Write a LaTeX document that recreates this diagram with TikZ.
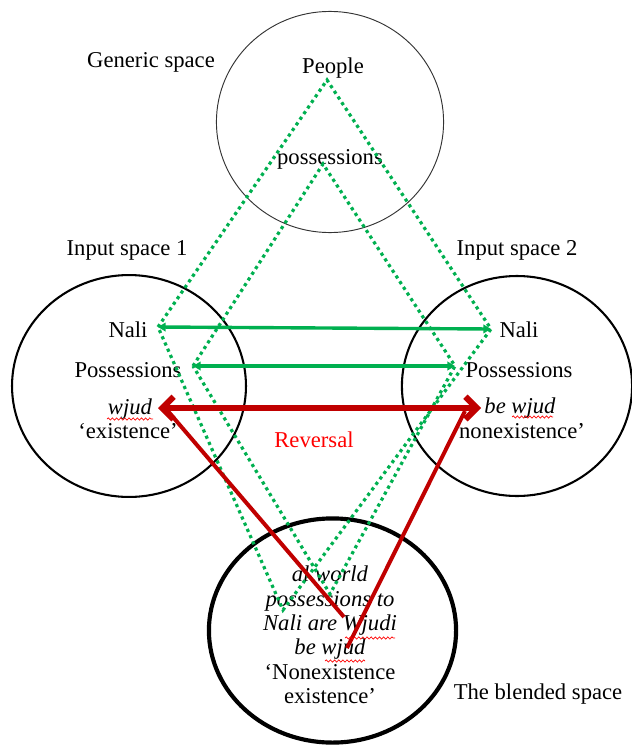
\documentclass[tikz,border=0pt]{standalone}
\usepackage{fontspec}
\setmainfont{Liberation Serif}
\usetikzlibrary{arrows.meta, decorations.pathmorphing}
\definecolor{linkgreen}{RGB}{0, 176, 80}
\definecolor{reversered}{RGB}{192, 0, 0}
\definecolor{labelred}{RGB}{255, 0, 0}

\begin{document}
\begin{tikzpicture}[
  x=0.53pt, y=-0.53pt,
  every node/.style={font=\fontsize{12}{12.9}\selectfont, inner sep=0pt},
  thinring/.style={draw=black!80, line width=0.5pt},
  ring/.style={draw=black, line width=1.1pt},
  thickring/.style={draw=black, line width=2.2pt},
  dotlink/.style={draw=linkgreen, line width=1.7pt, dash pattern=on 1.7pt off 1.9pt},
  greenarr/.style={draw=linkgreen, line width=1.8pt, {Triangle[length=4pt, width=4.5pt]}-{Triangle[length=4pt, width=4.5pt]}},
  redarr/.style={draw=reversered, line width=3.2pt, {Straight Barb[length=6pt, width=12pt]}-{Straight Barb[length=6pt, width=12pt]}},
  redline/.style={draw=reversered, line width=2.1pt},
  squiggle/.style={draw=red, line width=0.35pt, decorate, decoration={snake, segment length=2.2pt, amplitude=0.6pt}}
]
\useasboundingbox (0,0) rectangle (631,747);

% Spaces
\draw[thinring] (330,122) ellipse [x radius=60.2pt, y radius=58.6pt];
\draw[ring] (129,386) ellipse [x radius=62pt, y radius=58.8pt];
\draw[ring] (517,386) ellipse [x radius=61pt, y radius=58.3pt];
\draw[thickring] (332.5,630.5) ellipse [x radius=65.5pt, y radius=59.4pt];

% Labels
\node (genlabel) at (151,62) {Generic space};
\node (people) at (333,68) {People};
\node (genposs) at (330,159) {possessions};
\node (in1label) at (127,250) {Input space 1};
\node (in2label) at (517,250) {Input space 2};
\node (nali1) at (128,330) {Nali};
\node (poss1) at (128,370) {Possessions};
\node (wjud1) at (130,409) {\textit{wjud}};
\node (exist1) at (128,431) {‘existence’};
\node (nali2) at (519,330) {Nali};
\node (poss2) at (519,370) {Possessions};
\node (wjud2) at (520,408) {\textit{be wjud}};
\node (nonexist2) at (522,431) {nonexistence’};
\node[text=labelred] (reversal) at (314,440) {Reversal};
\node[align=center] (blendtext) at (330,635)
  {\textit{al world}\\\textit{possessions to}\\\textit{Nali are Wjudi}\\\textit{be wjud}\\‘Nonexistence\\existence’};
\node (blendlabel) at (538,694) {The blended space};

% Mapping points
\coordinate (peopletip) at (327,80);
\coordinate (posstip) at (323,164);
\coordinate (naliL) at (158,327);
\coordinate (naliR) at (491,329);
\coordinate (possL) at (193,366);
\coordinate (possR) at (455,366);
\coordinate (blendtipA) at (283,610);
\coordinate (blendtipB) at (330,594);
\coordinate (revL) at (158,408);
\coordinate (revR) at (481,408);
\coordinate (revLjoin) at (167,410);
\coordinate (revRjoin) at (465,411);
\coordinate (redtipA) at (344,617);
\coordinate (redtipB) at (347,648);

% Cross-space mappings
\draw[dotlink] (naliL) -- (peopletip) -- (naliR) -- (blendtipA) -- cycle;
\draw[dotlink] (possL) -- (posstip) -- (possR) -- (blendtipB) -- cycle;
\draw[greenarr] (naliL) -- (naliR);
\draw[greenarr] (possL) -- (possR);

% Reversal
\draw[redline] (redtipA) -- (revLjoin);
\draw[redline] (redtipB) -- (revRjoin);
\draw[redarr] (revL) -- (revR);

% Spell marks
\draw[squiggle] (107,419) -- (153,419);
\draw[squiggle] (512,417) -- (553,417);
\draw[squiggle] (345,638) -- (395,638);
\draw[squiggle] (325,661) -- (365,661);

\end{tikzpicture}
\end{document}
